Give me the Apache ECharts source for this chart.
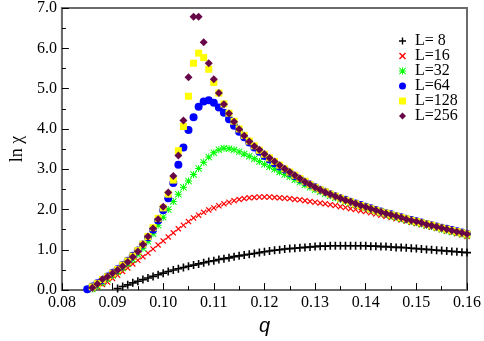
<!DOCTYPE html>
<html>
<head>
<meta charset="utf-8">
<script src="https://cdn.jsdelivr.net/npm/echarts@6/dist/echarts.min.js"></script>
<style>
  html, body { margin: 0; padding: 0; background: #fff; }
  #chart { width: 484px; height: 341px; }
</style>
</head>
<body>
<div id="chart"></div>
<script>
// q grid: 0.085 .. 0.160, step 0.001
var q = [
  0.085, 0.086, 0.087, 0.088, 0.089, 0.090,
  0.091, 0.092, 0.093, 0.094, 0.095, 0.096, 0.097, 0.098, 0.099, 0.100,
  0.101, 0.102, 0.103, 0.104, 0.105, 0.106, 0.107, 0.108, 0.109, 0.110,
  0.111, 0.112, 0.113, 0.114, 0.115, 0.116, 0.117, 0.118, 0.119, 0.120,
  0.121, 0.122, 0.123, 0.124, 0.125, 0.126, 0.127, 0.128, 0.129, 0.130,
  0.131, 0.132, 0.133, 0.134, 0.135, 0.136, 0.137, 0.138, 0.139, 0.140,
  0.141, 0.142, 0.143, 0.144, 0.145, 0.146, 0.147, 0.148, 0.149, 0.150,
  0.151, 0.152, 0.153, 0.154, 0.155, 0.156, 0.157, 0.158, 0.159, 0.160
];

var L8 = [
  null, null, null, null, null, null,
  0.04, 0.09, 0.13, 0.18, 0.22, 0.26, 0.30, 0.34, 0.38, 0.42,
  0.46, 0.50, 0.53, 0.56, 0.59, 0.62, 0.65, 0.68, 0.71, 0.73,
  0.76, 0.78, 0.80, 0.83, 0.85, 0.87, 0.89, 0.91, 0.93, 0.95,
  0.97, 0.99, 1.00, 1.02, 1.03, 1.04, 1.05, 1.06, 1.07, 1.08,
  1.09, 1.09, 1.10, 1.10, 1.10, 1.10, 1.10, 1.10, 1.10, 1.10,
  1.09, 1.09, 1.08, 1.08, 1.07, 1.06, 1.06, 1.05, 1.04, 1.03,
  1.02, 1.01, 1.00, 0.99, 0.98, 0.97, 0.96, 0.95, 0.94, 0.93
];

var L16 = [
  null, 0.02, 0.08, 0.14, 0.20, 0.29,
  0.37, 0.46, 0.55, 0.65, 0.74, 0.83, 0.92, 1.02, 1.12, 1.22,
  1.32, 1.42, 1.52, 1.61, 1.70, 1.79, 1.86, 1.93, 1.99, 2.04,
  2.09, 2.14, 2.18, 2.22, 2.25, 2.27, 2.29, 2.30, 2.31, 2.31,
  2.31, 2.30, 2.29, 2.28, 2.27, 2.25, 2.24, 2.22, 2.20, 2.18,
  2.16, 2.14, 2.12, 2.10, 2.07, 2.05, 2.02, 2.00, 1.97, 1.95,
  1.92, 1.89, 1.86, 1.83, 1.80, 1.77, 1.74, 1.71, 1.68, 1.65,
  1.62, 1.59, 1.56, 1.53, 1.50, 1.46, 1.43, 1.40, 1.37, 1.33
];

var L32 = [
  null, 0.03, 0.10, 0.18, 0.27, 0.36,
  0.45, 0.55, 0.65, 0.76, 0.89, 1.04, 1.21, 1.40, 1.61, 1.81,
  2.00, 2.20, 2.38, 2.55, 2.71, 2.87, 3.02, 3.17, 3.30, 3.41,
  3.48, 3.52, 3.51, 3.48, 3.43, 3.38, 3.32, 3.26, 3.19, 3.12,
  3.06, 3.00, 2.93, 2.87, 2.81, 2.74, 2.68, 2.61, 2.55, 2.49,
  2.44, 2.39, 2.34, 2.29, 2.25, 2.20, 2.16, 2.12, 2.08, 2.04,
  2.00, 1.96, 1.92, 1.88, 1.84, 1.81, 1.77, 1.74, 1.70, 1.67,
  1.64, 1.61, 1.58, 1.55, 1.51, 1.48, 1.45, 1.42, 1.39, 1.36
];

var L64 = [
  0.02, 0.09, 0.17, 0.25, 0.34, 0.43,
  0.52, 0.62, 0.73, 0.85, 0.98, 1.13, 1.31, 1.50, 1.73, 1.98,
  2.28, 2.66, 3.11, 3.54, 3.97, 4.29, 4.55, 4.68, 4.71, 4.65,
  4.53, 4.40, 4.24, 4.08, 3.93, 3.79, 3.66, 3.54, 3.43, 3.33,
  3.24, 3.15, 3.07, 2.99, 2.91, 2.83, 2.76, 2.69, 2.62, 2.55,
  2.49, 2.44, 2.38, 2.33, 2.28, 2.24, 2.19, 2.15, 2.11, 2.07,
  2.03, 1.99, 1.95, 1.91, 1.88, 1.84, 1.81, 1.77, 1.74, 1.71,
  1.68, 1.64, 1.61, 1.58, 1.55, 1.52, 1.49, 1.46, 1.43, 1.40
];

var L128 = [
  null, 0.08, 0.16, 0.26, 0.33, 0.42,
  0.51, 0.62, 0.72, 0.84, 0.98, 1.14, 1.33, 1.55, 1.78, 2.04,
  2.38, 2.73, 3.46, 4.06, 4.81, 5.63, 5.88, 5.77, 5.48, 5.15,
  4.89, 4.62, 4.39, 4.19, 4.00, 3.84, 3.70, 3.58, 3.47, 3.37,
  3.28, 3.19, 3.10, 3.01, 2.93, 2.85, 2.77, 2.70, 2.62, 2.55,
  2.49, 2.44, 2.38, 2.33, 2.28, 2.23, 2.19, 2.14, 2.10, 2.06,
  2.02, 1.98, 1.94, 1.91, 1.87, 1.84, 1.80, 1.77, 1.73, 1.70,
  1.67, 1.64, 1.61, 1.57, 1.54, 1.51, 1.48, 1.45, 1.42, 1.39
];

var L256 = [
  null, 0.06, 0.15, 0.27, 0.33, 0.42,
  0.50, 0.59, 0.70, 0.82, 0.96, 1.13, 1.33, 1.53, 1.76, 2.07,
  2.42, 2.83, 3.34, 4.21, 5.28, 6.78, 6.78, 6.15, 5.63, 5.23,
  4.89, 4.61, 4.38, 4.18, 3.99, 3.83, 3.69, 3.57, 3.48, 3.38,
  3.28, 3.19, 3.10, 3.01, 2.93, 2.85, 2.77, 2.69, 2.62, 2.55,
  2.49, 2.43, 2.38, 2.33, 2.28, 2.23, 2.19, 2.14, 2.10, 2.06,
  2.02, 1.98, 1.94, 1.90, 1.87, 1.83, 1.80, 1.76, 1.73, 1.70,
  1.67, 1.63, 1.60, 1.57, 1.54, 1.51, 1.48, 1.45, 1.42, 1.39
];

var seriesNames = ["L= 8", "L=16", "L=32", "L=64", "L=128", "L=256"];
var seriesValues = [L8, L16, L32, L64, L128, L256];

// marker shapes (plus, cross, asterisk) as paths
var PLUS = "path://M4,0H6V4H10V6H6V10H4V6H0V4H4Z";
var CROSS = "path://M1.4,0L5,3.6L8.6,0L10,1.4L6.4,5L10,8.6L8.6,10L5,6.4L1.4,10L0,8.6L3.6,5L0,1.4Z";
var STAR = "path://M4.3,0H5.7V4.3H10V5.7H5.7V10H4.3V5.7H0V4.3H4.3Z" +
  "M1,0L5,4L9,0L10,1L6,5L10,9L9,10L5,6L1,10L0,9L4,5L0,1Z";

var styles = [
  { color: "#000000", symbol: PLUS, size: 8 },
  { color: "#ff0000", symbol: CROSS, size: 6 },
  { color: "#00ff00", symbol: STAR, size: 7 },
  { color: "#0000ff", symbol: "circle", size: 8 },
  { color: "#ffff00", symbol: "rect", size: 7 },
  { color: "#670748", symbol: "diamond", size: 8 }
];

function pairs(vals) {
  var out = [];
  for (var i = 0; i < q.length; i++) {
    if (vals[i] !== null) out.push([q[i], vals[i]]);
  }
  return out;
}

var series = seriesNames.map(function (name, k) {
  return {
    name: name,
    type: "scatter",
    data: pairs(seriesValues[k]),
    symbol: styles[k].symbol,
    symbolSize: styles[k].size,
    itemStyle: { color: styles[k].color, opacity: 1 },
    emphasis: { disabled: true },
    animation: false
  };
});

var serif = "Liberation Serif";

var myChart = echarts.init(document.getElementById("chart"));
var option = {
  backgroundColor: "#ffffff",
  animation: false,
  grid: {
    left: 45, right: 14, top: 7, bottom: 37,
    show: true, borderColor: "#6b6b6b", borderWidth: 2
  },
  legend: {
    orient: "vertical",
    left: 394, top: 28,
    itemWidth: 7, itemHeight: 7, itemGap: -1,
    data: seriesNames,
    textStyle: {
      fontFamily: serif, fontSize: 16, color: "#000", lineHeight: 15,
      padding: [0, 0, 0, 4]
    }
  },
  xAxis: {
    type: "value",
    min: 0.08, max: 0.16, interval: 0.01,
    name: "q",
    nameLocation: "middle",
    nameGap: 12,
    nameTextStyle: { fontFamily: "Liberation Sans", fontStyle: "italic", fontSize: 20, color: "#000" },
    axisLine: { show: true, lineStyle: { color: "#6b6b6b", width: 2 } },
    axisTick: { inside: true, length: 7, lineStyle: { color: "#000" } },
    minorTick: { show: true, splitNumber: 2, length: 4, lineStyle: { color: "#000" } },
    splitLine: { show: false },
    axisLabel: {
      fontFamily: serif, fontSize: 16, color: "#000", margin: 5,
      formatter: function (v) { return v.toFixed(2); }
    }
  },
  yAxis: {
    type: "value",
    min: 0, max: 7, interval: 1,
    name: "ln χ",
    nameLocation: "middle",
    nameRotate: 90,
    nameGap: 24,
    nameTextStyle: { fontFamily: serif, fontSize: 18, color: "#000" },
    axisLine: { show: true, lineStyle: { color: "#6b6b6b", width: 2 } },
    axisTick: { inside: true, length: 7, lineStyle: { color: "#000" } },
    minorTick: { show: true, splitNumber: 2, length: 4, lineStyle: { color: "#000" } },
    splitLine: { show: false },
    axisLabel: {
      fontFamily: serif, fontSize: 16, color: "#000", margin: 5,
      formatter: function (v) { return v.toFixed(1); }
    }
  },
  series: series
};
myChart.setOption(option);
</script>
</body>
</html>
